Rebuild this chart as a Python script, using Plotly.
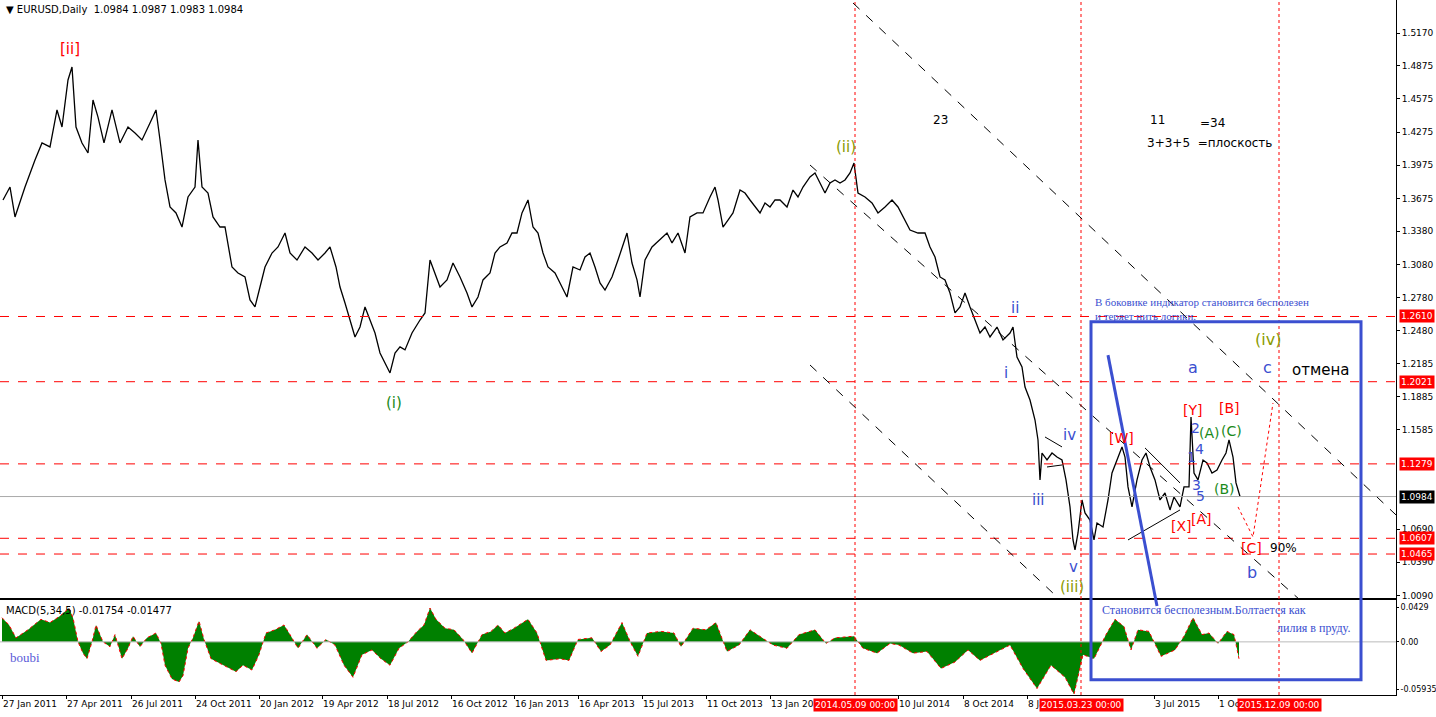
import plotly.graph_objects as go

# price closes (bar index, price)
bars = [3, 10, 15, 25, 35, 42, 50, 57, 62, 68, 72, 76, 82, 88, 93, 98, 104, 112, 120, 128,
        135, 142, 150, 156, 160, 165, 170, 176, 182, 188, 195, 198, 202, 208, 213, 220, 225, 232, 238, 245,
        250, 255, 260, 265, 272, 278, 285, 290, 297, 305, 312, 318, 325, 330, 336, 340, 345, 350, 355, 360,
        365, 370, 375, 380, 385, 390, 395, 400, 405, 412, 420, 425, 430, 435, 440, 447, 453, 460, 467, 472,
        478, 483, 490, 495, 500, 507, 512, 517, 522, 528, 533, 538, 543, 548, 555, 562, 567, 573, 580, 585,
        590, 595, 600, 605, 612, 618, 622, 627, 632, 637, 640, 645, 652, 660, 667, 672, 678, 685, 690, 697,
        703, 710, 715, 718, 723, 728, 733, 740, 745, 750, 755, 760, 765, 770, 775, 780, 787, 793, 798, 803,
        810, 815, 820, 825, 830, 835, 840, 845, 850, 854, 858, 865, 872, 878, 885, 892, 898, 905, 910, 918,
        925, 930, 935, 940, 945, 950, 955, 960, 965, 970, 975, 980, 985, 990, 997, 1003, 1010, 1013, 1017, 1022,
        1025, 1030, 1035, 1038, 1040, 1042, 1047, 1052, 1057, 1062, 1066, 1070, 1073, 1075, 1078, 1082, 1085, 1090, 1094, 1097,
        1103, 1108, 1112, 1117, 1122, 1125, 1128, 1132, 1137, 1142, 1146, 1150, 1155, 1160, 1165, 1170, 1174, 1180, 1184, 1189,
        1191, 1194, 1198, 1203, 1207, 1212, 1217, 1222, 1226, 1229, 1233, 1236, 1240]
closes = [1.3662, 1.3779, 1.3509, 1.3779, 1.4023, 1.4177, 1.4141, 1.4475, 1.4321, 1.4746, 1.4863, 1.4321, 1.4177, 1.4086, 1.4565, 1.4411, 1.4177, 1.4475, 1.4177, 1.4321,
          1.4267, 1.4204, 1.4357, 1.4475, 1.4204, 1.3843, 1.3599, 1.3545, 1.3418, 1.3689, 1.3779, 1.4204, 1.3779, 1.3725, 1.3509, 1.3418, 1.3418, 1.3057, 1.3003, 1.2967,
          1.2759, 1.2696, 1.2876, 1.3057, 1.3183, 1.3238, 1.3364, 1.3183, 1.3120, 1.3238, 1.3183, 1.3120, 1.3183, 1.3238, 1.3057, 1.2876, 1.2732, 1.2578, 1.2425, 1.2515,
          1.2696, 1.2578, 1.2461, 1.2280, 1.2190, 1.2100, 1.2280, 1.2335, 1.2308, 1.2461, 1.2578, 1.2642, 1.3120, 1.3003, 1.2876, 1.2940, 1.3093, 1.2967, 1.2822, 1.2696,
          1.2786, 1.2940, 1.3003, 1.3183, 1.3238, 1.3274, 1.3364, 1.3364, 1.3545, 1.3662, 1.3418, 1.3364, 1.3183, 1.3057, 1.3003, 1.2876, 1.2786, 1.3057, 1.3030, 1.3147,
          1.3183, 1.3057, 1.2913, 1.2849, 1.2967, 1.3120, 1.3238, 1.3364, 1.3093, 1.2940, 1.2786, 1.3120, 1.3238, 1.3301, 1.3364, 1.3274, 1.3364, 1.3183, 1.3509, 1.3545,
          1.3545, 1.3689, 1.3779, 1.3662, 1.3418, 1.3481, 1.3545, 1.3752, 1.3725, 1.3662, 1.3599, 1.3545, 1.3635, 1.3599, 1.3662, 1.3662, 1.3599, 1.3752, 1.3689, 1.3779,
          1.3870, 1.3906, 1.3815, 1.3725, 1.3815, 1.3843, 1.3815, 1.3843, 1.3906, 1.3996, 1.3725, 1.3689, 1.3635, 1.3545, 1.3599, 1.3662, 1.3599, 1.3481, 1.3391, 1.3364,
          1.3364, 1.3238, 1.3147, 1.2967, 1.2940, 1.2822, 1.2642, 1.2696, 1.2822, 1.2696, 1.2578, 1.2461, 1.2515, 1.2425, 1.2515, 1.2398, 1.2461, 1.2515, 1.2244, 1.2154,
          1.1973, 1.1856, 1.1675, 1.1495, 1.1134, 1.1377, 1.1314, 1.1377, 1.1341, 1.1314, 1.1134, 1.0890, 1.0592, 1.0502, 1.0655, 1.0953, 1.0836, 1.0772, 1.0592, 1.0745,
          1.0709, 1.0953, 1.1197, 1.1314, 1.1432, 1.1341, 1.1071, 1.0890, 1.1134, 1.1314, 1.1377, 1.1251, 1.1134, 1.0953, 1.1016, 1.0863, 1.0980, 1.0890, 1.1071, 1.1071,
          1.1703, 1.1197, 1.1134, 1.1314, 1.1287, 1.1197, 1.1224, 1.1314, 1.1377, 1.1495, 1.1341, 1.1107, 1.0984]

# MACD(5,34,5) histogram
macd_bars = [2, 9, 16, 28, 41, 50, 60, 69, 73, 78, 83, 87, 92, 96, 103, 110, 115, 122, 128, 133,
             140, 147, 156, 161, 165, 172, 179, 183, 188, 193, 199, 204, 211, 220, 229, 236, 243, 252, 259, 266,
             275, 284, 291, 298, 307, 317, 326, 335, 344, 353, 362, 372, 381, 390, 399, 408, 417, 424, 430, 436,
             445, 454, 463, 472, 482, 491, 498, 505, 514, 528, 537, 546, 560, 569, 578, 592, 601, 610, 622, 631,
             638, 647, 661, 674, 681, 693, 706, 716, 727, 739, 750, 762, 773, 787, 799, 815, 826, 835, 854, 863,
             877, 890, 899, 913, 927, 941, 955, 968, 980, 991, 1010, 1023, 1037, 1051, 1065, 1074, 1083, 1094, 1106, 1115,
             1124, 1131, 1138, 1149, 1161, 1175, 1184, 1193, 1202, 1209, 1218, 1227, 1234, 1239]
macd_vals = [0.030, 0.021, 0.005, 0.015, 0.028, 0.024, 0.032, 0.042, 0.030, 0.000, -0.014, -0.021, 0.000, 0.021, 0.000, -0.006, 0.009, -0.021, -0.008, 0.007,
             -0.006, 0.005, 0.011, -0.002, -0.029, -0.046, -0.050, -0.042, -0.008, 0.005, 0.026, 0.003, -0.021, -0.027, -0.033, -0.037, -0.029, -0.035, -0.016, 0.011,
             0.015, 0.021, 0.007, -0.008, 0.009, -0.008, 0.003, -0.004, -0.029, -0.044, -0.016, -0.010, -0.021, -0.029, -0.008, 0.000, 0.013, 0.021, 0.042, 0.028,
             0.017, 0.015, 0.003, -0.014, 0.009, 0.013, 0.021, 0.011, 0.017, 0.028, 0.011, -0.023, -0.021, -0.023, 0.003, 0.005, -0.012, -0.004, 0.024, -0.002,
             -0.018, 0.011, 0.013, 0.011, -0.006, 0.017, 0.015, 0.024, -0.012, -0.004, 0.015, 0.005, -0.004, -0.008, 0.009, 0.015, -0.002, 0.005, 0.007, -0.008,
             -0.014, -0.002, -0.004, -0.014, -0.012, -0.033, -0.025, -0.010, -0.023, -0.016, -0.004, -0.033, -0.058, -0.029, -0.044, -0.065, -0.016, -0.021, 0.009, 0.028,
             0.019, -0.010, 0.015, 0.013, -0.018, -0.010, 0.007, 0.030, 0.009, 0.011, -0.002, 0.013, 0.009, -0.021]

price_ticks = [1.5170, 1.4875, 1.4575, 1.4275, 1.3975, 1.3675, 1.3380, 1.3080, 1.2780, 1.2480,
               1.2185, 1.1885, 1.1585, 1.0690, 1.0390, 1.0090]
levels = [1.2610, 1.2021, 1.1279, 1.0607, 1.0465]
last_price = 1.0984
date_pos = [2, 66, 131, 195, 259, 322, 387, 451, 514, 578, 642, 706, 770, 898, 963, 1027, 1154, 1218]
date_text = ["27 Jan 2011", "27 Apr 2011", "26 Jul 2011", "24 Oct 2011", "20 Jan 2012", "19 Apr 2012",
             "18 Jul 2012", "16 Oct 2012", "16 Jan 2013", "16 Apr 2013", "15 Jul 2013", "11 Oct 2013",
             "13 Jan 2014", "10 Jul 2014", "8 Oct 2014", "8 Jan 2015", "3 Jul 2015", "1 Oct 2015"]
vlines = [855, 1081, 1279]
vline_text = ["2014.05.09 00:00", "2015.03.23 00:00", "2015.12.09 00:00"]

FONT = "DejaVu Sans"
BLUE = "#3b4fd0"
GREEN = "#1a8a1a"
OLIVE = "#8a9a00"

fig = go.Figure()
fig.add_trace(go.Scatter(x=bars, y=closes, mode="lines", line=dict(color="black", width=1.3),
                         xaxis="x", yaxis="y", hoverinfo="skip"))
fig.add_trace(go.Scatter(x=macd_bars, y=macd_vals, mode="lines", fill="tozeroy", fillcolor="#008000",
                         line=dict(color="#008000", width=0), xaxis="x2", yaxis="y2", hoverinfo="skip"))
fig.add_trace(go.Scatter(x=macd_bars, y=macd_vals, mode="lines", line=dict(color="red", width=1, dash="dot"),
                         xaxis="x2", yaxis="y2", hoverinfo="skip"))

shapes = []
for lv in levels:
    shapes.append(dict(type="line", xref="x", yref="y", x0=0, x1=1396, y0=lv, y1=lv,
                       line=dict(color="red", width=1, dash="dash")))
shapes.append(dict(type="line", xref="x", yref="y", x0=0, x1=1396, y0=last_price, y1=last_price,
                   line=dict(color="#aaaaaa", width=1)))
shapes.append(dict(type="line", xref="x2", yref="y2", x0=0, x1=1396, y0=0, y1=0,
                   line=dict(color="#bbbbbb", width=1)))
for v in vlines:
    shapes.append(dict(type="line", xref="x", yref="paper", x0=v, x1=v, y0=0, y1=1,
                       line=dict(color="red", width=1, dash="dot")))
# channel lines
for (x0, y0, x1, y1) in [(853, 1.5441, 1396, 1.0818), (810, 1.3978, 1300, 1.0050), (810, 1.2172, 1055, 1.0095)]:
    shapes.append(dict(type="line", xref="x", yref="y", x0=x0, y0=y0, x1=x1, y1=y1,
                       line=dict(color="black", width=1, dash="dash")))
for (x0, y0, x1, y1) in [(1145, 1.1423, 1180, 1.1107), (1128, 1.0592, 1180, 1.0863),
                         (1045, 1.1522, 1062, 1.1432), (1047, 1.1251, 1062, 1.1269)]:
    shapes.append(dict(type="line", xref="x", yref="y", x0=x0, y0=y0, x1=x1, y1=y1,
                       line=dict(color="black", width=1)))
shapes.append(dict(type="path", xref="x", yref="y", path="M 1238 1.0890 L 1253 1.0619 L 1273 1.1829",
                   line=dict(color="red", width=1, dash="dot")))
shapes.append(dict(type="line", xref="x", yref="paper", x0=1108, y0=0.489, x1=1157, y1=0.128,
                   line=dict(color=BLUE, width=3)))
shapes.append(dict(type="rect", xref="x", yref="paper", x0=1091, x1=1361, y0=0.022, y1=0.537,
                   line=dict(color=BLUE, width=3)))

ann = []


def txt(x, y, s, color, size=13, yref="y", xanchor="center", family=FONT):
    ann.append(dict(x=x, y=y, xref="x", yref=yref, text=s, showarrow=False, xanchor=xanchor,
                    font=dict(color=color, size=size, family=family)))


txt(70, 1.5030, "[ii]", "red", 15)
txt(846, 1.4140, "(ii)", OLIVE, 15)
txt(394, 1.1830, "(i)", GREEN, 15)
txt(940, 1.4380, "23", "black", 12)
txt(1157, 1.4380, "11", "black", 12)
txt(1212, 1.4360, "=34", "black", 12)
txt(1145, 1.4178, "3+3+5  =плоскость", "black", 12, xanchor="left")
txt(1015, 1.2690, "ii", BLUE, 15)
txt(1006, 1.2100, "i", BLUE, 15)
txt(1069, 1.1540, "iv", BLUE, 15)
txt(1038, 1.0950, "iii", BLUE, 15)
txt(1073, 1.0350, "v", BLUE, 15)
txt(1072, 1.0170, "(iii)", OLIVE, 15)
txt(1093, 1.2740, "В боковике индикатор становится бесполезен", BLUE, 11, xanchor="left", family="Liberation Serif")
txt(1093, 1.2610, "и теряет нить логики.", BLUE, 11, xanchor="left", family="Liberation Serif")
txt(1268, 1.2400, "(iv)", OLIVE, 16)
txt(1193, 1.2150, "a", BLUE, 16)
txt(1267, 1.2150, "c", BLUE, 16)
txt(1320, 1.2130, "отмена", "black", 15)
txt(1192, 1.1770, "[Y]", "red", 14)
txt(1229, 1.1780, "[B]", "red", 14)
txt(1121, 1.1510, "[W]", "red", 14)
txt(1195, 1.1600, "2", BLUE, 14)
txt(1209, 1.1560, "(A)", GREEN, 14)
txt(1231, 1.1580, "(C)", GREEN, 14)
txt(1199, 1.1410, "4", BLUE, 14)
txt(1191, 1.1340, "1", BLUE, 14)
txt(1196, 1.1090, "3", BLUE, 14)
txt(1200, 1.0990, "5", BLUE, 14)
txt(1224, 1.1050, "(B)", GREEN, 14)
txt(1181, 1.0720, "[X]", "red", 14)
txt(1201, 1.0780, "[A]", "red", 14)
txt(1251, 1.0520, "[C]", "red", 14)
txt(1283, 1.0520, "90%", "black", 12)
txt(1252, 1.0300, "b", BLUE, 16)

ann.append(dict(x=0.003, y=0.997, xref="paper", yref="paper", xanchor="left", yanchor="top", showarrow=False,
                text="▼ EURUSD,Daily  1.0984 1.0987 1.0983 1.0984", font=dict(size=10, family=FONT, color="black")))
ann.append(dict(x=0.003, y=0.133, xref="paper", yref="paper", xanchor="left", yanchor="top", showarrow=False,
                text="MACD(5,34,5) -0.01754 -0.01477", font=dict(size=10, family=FONT, color="black")))
ann.append(dict(x=8, y=-0.020, xref="x2", yref="y2", xanchor="left", showarrow=False,
                text="boubi", font=dict(size=13, family="Liberation Serif", color="#5a5ad8")))
ann.append(dict(x=1100, y=0.040, xref="x2", yref="y2", xanchor="left", showarrow=False,
                text="Становится бесполезным.Болтается как", font=dict(size=12, family="Liberation Serif", color=BLUE)))
ann.append(dict(x=1352, y=0.017, xref="x2", yref="y2", xanchor="right", showarrow=False,
                text="лилия в пруду.", font=dict(size=12, family="Liberation Serif", color=BLUE)))
for lv in levels:
    ann.append(dict(x=1.0, y=lv, xref="paper", yref="y", xanchor="left", showarrow=False, text=f"{lv:.4f}",
                    bgcolor="red", font=dict(size=9, family=FONT, color="white"), borderpad=1, xshift=3))
ann.append(dict(x=1.0, y=last_price, xref="paper", yref="y", xanchor="left", showarrow=False, text=f"{last_price:.4f}",
                bgcolor="black", font=dict(size=9, family=FONT, color="white"), borderpad=1, xshift=3))
for v, s in zip(vlines, vline_text):
    ann.append(dict(x=v, y=0, xref="x2", yref="paper", yanchor="top", showarrow=False, text=s,
                    bgcolor="red", font=dict(size=9, family=FONT, color="white"), borderpad=1, yshift=-3))

axis_common = dict(showgrid=False, zeroline=False, showline=True, linecolor="black", mirror=True,
                   ticks="outside", ticklen=3, tickcolor="black", automargin=False, tickangle=0,
                   tickfont=dict(size=9, family=FONT, color="black"))
fig.update_layout(
    width=1436, height=717, margin=dict(l=0, r=40, t=0, b=22),
    paper_bgcolor="white", plot_bgcolor="white", showlegend=False,
    shapes=shapes, annotations=ann,
    xaxis=dict(axis_common, range=[0, 1396], domain=[0, 1], showticklabels=False, ticks="", anchor="y"),
    yaxis=dict(axis_common, range=[1.0068, 1.5468], domain=[0.1396, 1], side="right",
               tickvals=price_ticks, ticktext=[f"{p:.4f}" for p in price_ticks], anchor="x"),
    xaxis2=dict(axis_common, range=[0, 1396], domain=[0, 1], anchor="y2", matches="x",
                tickvals=date_pos, ticktext=date_text, ticklabelposition="outside right"),
    yaxis2=dict(axis_common, range=[-0.066, 0.052], domain=[0, 0.1367], side="right", anchor="x2",
                tickvals=[0.0429, 0.0, -0.05935], ticktext=["0.0429", "0.00", "-0.05935"],
                tickfont=dict(size=8, family=FONT, color="black"), ticklen=2),
)
fig.write_html("out.html", config={"displayModeBar": False},
               post_script="document.body.style.margin='0px';")
